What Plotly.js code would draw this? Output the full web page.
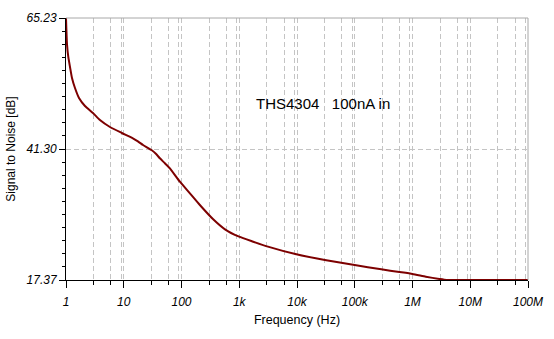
<!DOCTYPE html>
<html>
<head>
<meta charset="utf-8">
<script src="https://cdn.plot.ly/plotly-3.0.1.min.js"></script>
<style>
html,body{margin:0;padding:0;background:#fff;}
#chart{width:554px;height:339px;}
</style>
</head>
<body>
<div id="chart"></div>
<script>
// Frequency (Hz) and signal-to-noise (dB)
var freqHz = [1.00, 1.04, 1.096, 1.173, 1.27, 1.431, 1.679, 2.13, 2.93, 3.87, 5.77, 9.30, 14.4, 17.6, 21.6, 25.2, 30.6, 36.0, 42.2, 51.5, 62.9, 93.8, 139.8, 208, 350, 566, 994, 1745, 3136, 9757, 30340, 99500, 288000, 592000, 1.0e6, 1.70e6, 2.92e6, 3.9e6, 1e7, 1e8];
var snrDb  = [65.23, 60.48, 58.11, 56.28, 54.27, 52.44, 50.62, 49.16, 47.88, 46.60, 45.32, 44.22, 43.25, 42.70, 42.03, 41.60, 41.07, 40.43, 39.60, 38.70, 37.77, 35.33, 33.21, 31.07, 28.51, 26.63, 25.28, 24.37, 23.46, 22.06, 21.02, 20.11, 19.32, 18.83, 18.47, 17.97, 17.55, 17.37, 17.37, 17.37];

var xTickVals = [1, 10, 100, 1e3, 1e4, 1e5, 1e6, 1e7, 1e8];
var xTickText = ['1', '10', '100', '1k', '10k', '100k', '1M', '10M', '100M'];
var yTickVals = [17.37, 41.30, 65.23];
var yTickText = ['17.37', '41.30', '65.23'];
var minorTickMultipliers = [3, 6];
var minorGridMultipliers = [3, 6, 9];
var yMinorDivisions = 20;

var xMinorTicks = [], xMinorGrid = [];
for (var k = 0; k < 8; k++) {
  minorTickMultipliers.forEach(function (m) { xMinorTicks.push(m * Math.pow(10, k)); });
  minorGridMultipliers.forEach(function (m) { xMinorGrid.push(m * Math.pow(10, k)); });
}
var yMin = yTickVals[0], yMax = yTickVals[2];
var yStep = (yMax - yMin) / yMinorDivisions;
var yMinor = [];
for (var i = 1; i < yMinorDivisions; i++) { if (i !== 10) yMinor.push(yMin + i * yStep); }

var gridColor = '#c4c4c4';
var gridDash = '5px,3px';
var fam = 'Liberation Sans, Arial, sans-serif';
var tickFont = {family: fam, size: 12, color: '#000', style: 'italic'};
var blank = function (arr) { return arr.map(function () { return ''; }); };

var trace = {
  x: freqHz, y: snrDb, type: 'scatter', mode: 'lines',
  line: {color: '#7d0000', width: 2, shape: 'spline', smoothing: 0.5},
  cliponaxis: false, hoverinfo: 'skip'
};

var xRange = [0, 8];
var layout = {
  width: 554, height: 339,
  margin: {l: 66, r: 26, t: 18, b: 59},
  paper_bgcolor: '#fff', plot_bgcolor: '#fff',
  showlegend: false,
  font: {family: fam, color: '#000'},
  xaxis: {
    type: 'log', range: xRange,
    tickmode: 'array', tickvals: xMinorGrid, ticktext: blank(xMinorGrid),
    ticks: '', showticklabels: false,
    showline: false,
    showgrid: true, gridcolor: gridColor, gridwidth: 1, griddash: gridDash,
    zeroline: false, layer: 'below traces'
  },
  xaxis2: {
    type: 'log', range: xRange, overlaying: 'x', anchor: 'y', side: 'bottom',
    tickmode: 'array', tickvals: xMinorTicks, ticktext: blank(xMinorTicks),
    ticks: 'outside', ticklen: 4, tickwidth: 1, tickcolor: '#000',
    showticklabels: false, showgrid: false, showline: false, zeroline: false
  },
  xaxis3: {
    type: 'log', range: xRange, overlaying: 'x', anchor: 'y', side: 'bottom',
    tickmode: 'array', tickvals: xTickVals, ticktext: xTickText,
    ticks: 'outside', ticklen: 7, tickwidth: 1, tickcolor: '#000',
    tickfont: tickFont, ticklabelstandoff: 4,
    showline: true, linecolor: '#000', linewidth: 1,
    showgrid: true, gridcolor: gridColor, gridwidth: 1, griddash: gridDash,
    zeroline: false,
    title: {text: 'Frequency (Hz)', font: {size: 12.5, family: fam}, standoff: 6}
  },
  yaxis: {
    range: [yMin, yMax],
    tickmode: 'array', tickvals: yTickVals, ticktext: yTickText,
    ticks: 'outside', ticklen: 6, tickwidth: 1, tickcolor: '#000',
    tickfont: tickFont,
    showline: true, linecolor: '#000', linewidth: 1,
    showgrid: true, gridcolor: gridColor, gridwidth: 1, griddash: gridDash,
    zeroline: false,
    title: {text: 'Signal to Noise [dB]', font: {size: 12, family: fam}, standoff: 8}
  },
  yaxis2: {
    range: [yMin, yMax], overlaying: 'y', anchor: 'x', side: 'left',
    tickmode: 'array', tickvals: yMinor, ticktext: blank(yMinor),
    ticks: 'outside', ticklen: 3, tickwidth: 1, tickcolor: '#000',
    showticklabels: false, showgrid: false, showline: false, zeroline: false
  },
  shapes: [
    {type: 'line', xref: 'paper', yref: 'paper', x0: 0, x1: 1, y0: 1, y1: 1, line: {color: '#a8a8a8', width: 1}},
    {type: 'line', xref: 'paper', yref: 'paper', x0: 1, x1: 1, y0: 0, y1: 1, line: {color: '#a8a8a8', width: 1}}
  ],
  annotations: [{
    text: 'THS4304\u00a0\u00a0\u00a0100nA in', xref: 'paper', yref: 'paper',
    x: 0.407, y: 0.672, xanchor: 'left', yanchor: 'middle', showarrow: false,
    font: {size: 15, family: fam, color: '#000'}
  }]
};

var helpers = [
  {x: [1, 1e8], y: [yMin, yMin], xaxis: 'x2', yaxis: 'y', mode: 'lines', line: {width: 0}, hoverinfo: 'skip', showlegend: false},
  {x: [1, 1e8], y: [yMin, yMin], xaxis: 'x3', yaxis: 'y', mode: 'lines', line: {width: 0}, hoverinfo: 'skip', showlegend: false},
  {x: [1, 1e8], y: [yMin, yMin], xaxis: 'x', yaxis: 'y2', mode: 'lines', line: {width: 0}, hoverinfo: 'skip', showlegend: false}
];

Plotly.newPlot('chart', helpers.concat([trace]), layout, {staticPlot: true, displayModeBar: false});
</script>
</body>
</html>
